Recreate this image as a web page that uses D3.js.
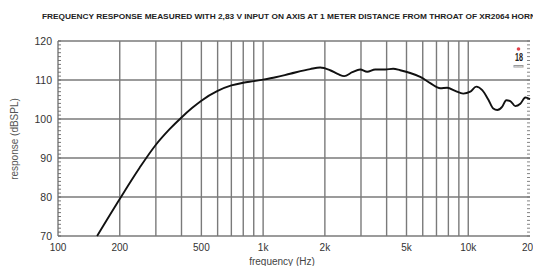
<!DOCTYPE html>
<html>
<head>
<meta charset="utf-8">
<script src="https://cdn.jsdelivr.net/npm/d3@7"></script>
<style>
html,body{margin:0;padding:0;background:#fff;overflow:hidden;}
svg{display:block;font-family:"Liberation Sans",Arial,sans-serif;}
</style>
</head>
<body>
<svg id="chart" width="533" height="266"></svg>
<script>
// ---- data ----
const freqs = [155,200,250,300,350,400,450,500,600,700,800,900,1000,1150,1354,1696,1897,2122,2322,2485,2720,2973,3216,3518,3936,4307,4660,5214,5833,6526,7301,7899,8640,9450,10230,10940,11700,12520,13240,13850,14650,15320,16030,16960,17940,18970,20000];
const levels = [70,79.5,87.5,93.4,97.4,100.4,102.8,104.7,107.2,108.6,109.3,109.7,110.1,110.7,111.6,112.8,113.2,112.5,111.5,111.0,112.0,112.7,112.1,112.7,112.7,112.9,112.5,111.8,110.8,109.2,107.9,108.0,107.2,106.5,107.0,108.3,107.4,105.0,102.7,102.3,103.2,104.8,104.6,103.3,103.9,105.5,105.1];
const gridFreqs = [200,300,400,500,600,700,800,900,1000,2000,3000,4000,5000,6000,7000,8000,9000,10000];
const xTickVals = [100,200,500,1000,2000,5000,10000,20000];
const xTickLabels = ["100","200","500","1k","2k","5k","10k","20k"];
const yTickVals = [70,80,90,100,110,120];
const title = "FREQUENCY RESPONSE MEASURED WITH 2,83 V INPUT ON AXIS AT 1 METER DISTANCE FROM THROAT OF XR2064 HORN";

// ---- layout ----
const svg = d3.select("#chart");
const L = 58, R = 530, T = 41, B = 236;
const x = d3.scaleLog().domain([100,20000]).range([L,R]);
const y = d3.scaleLinear().domain([70,120]).range([B,T]);
const gridColor = "#7a7a7a";

// title
svg.append("text").attr("x",42).attr("y",18.5)
  .attr("font-size",7).attr("font-weight","bold").attr("fill","#222")
  .attr("textLength",494).attr("lengthAdjust","spacingAndGlyphs")
  .text(title);

// vertical grid
svg.append("g").selectAll("line").data(gridFreqs).join("line")
  .attr("x1",d=>x(d)).attr("x2",d=>x(d)).attr("y1",T).attr("y2",B)
  .attr("stroke",gridColor).attr("stroke-width",1.4);

// horizontal grid
svg.append("g").selectAll("line").data(yTickVals).join("line")
  .attr("x1",L).attr("x2",R).attr("y1",d=>y(d)).attr("y2",d=>y(d))
  .attr("stroke",gridColor).attr("stroke-width",1.4);

// left border
svg.append("line").attr("x1",L).attr("x2",L).attr("y1",T).attr("y2",B)
  .attr("stroke",gridColor).attr("stroke-width",1.4);

// minor ticks (1 dB) on left and right edges
const minor = d3.range(70,120.01,1);
svg.append("g").selectAll("line").data(minor).join("line")
  .attr("x1",L).attr("x2",L+3).attr("y1",d=>y(d)).attr("y2",d=>y(d))
  .attr("stroke","#666").attr("stroke-width",0.9);
svg.append("g").selectAll("line").data(minor).join("line")
  .attr("x1",R-3).attr("x2",R).attr("y1",d=>y(d)).attr("y2",d=>y(d))
  .attr("stroke","#777").attr("stroke-width",0.9);

// y axis labels
svg.append("g").selectAll("text").data(yTickVals).join("text")
  .attr("x",52).attr("y",d=>y(d)+3.8).attr("text-anchor","end")
  .attr("font-size",10.5).attr("fill","#333").text(d=>d);

// x axis labels
svg.append("g").selectAll("text").data(xTickVals).join("text")
  .attr("x",d=>x(d)).attr("y",250.5).attr("text-anchor","middle")
  .attr("font-size",10).attr("fill","#333").text((d,i)=>xTickLabels[i]);

// axis titles
svg.append("text").attr("transform","translate(18,139) rotate(-90)")
  .attr("text-anchor","middle").attr("font-size",10).attr("fill","#555")
  .text("response (dBSPL)");
svg.append("text").attr("x",282).attr("y",265).attr("text-anchor","middle")
  .attr("font-size",10).attr("fill","#444").text("frequency (Hz)");

// response curve
const pts = freqs.map((f,i)=>[f,levels[i]]);
const line = d3.line().x(d=>x(d[0])).y(d=>y(d[1])).curve(d3.curveMonotoneX);
svg.append("path").datum(pts).attr("d",line)
  .attr("fill","none").attr("stroke","#111").attr("stroke-width",1.9)
  .attr("stroke-linejoin","round");

// logo
const lg = svg.append("g");
lg.append("circle").attr("cx",518.5).attr("cy",49).attr("r",1.8).attr("fill","#e0404a");
lg.append("text").attr("x",519).attr("y",60.5).attr("text-anchor","middle")
  .attr("font-size",11).attr("font-weight","bold").attr("fill","#222")
  .attr("textLength",8).attr("lengthAdjust","spacingAndGlyphs").text("18");
lg.append("rect").attr("x",513.5).attr("y",65).attr("width",10).attr("height",2.5).attr("fill","#999");
lg.append("text").attr("x",518.5).attr("y",67.2).attr("text-anchor","middle")
  .attr("font-size",2.4).attr("fill","#fff").text("SOUND");
</script>
</body>
</html>
